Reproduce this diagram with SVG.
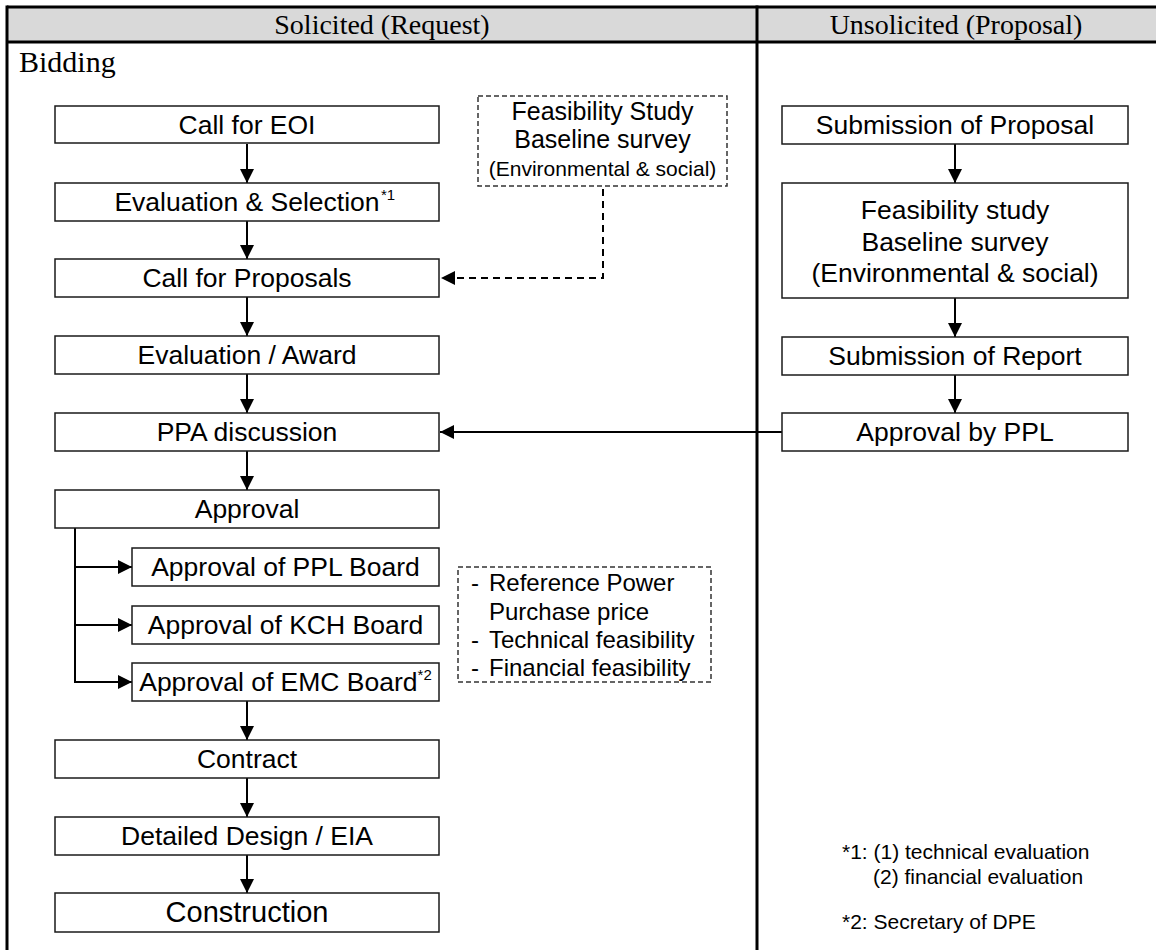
<svg xmlns="http://www.w3.org/2000/svg" width="1156" height="950" viewBox="0 0 1156 950">
  <style>
    .frame { stroke:#000; stroke-width:3; fill:none }
    .hdr { font-family:"Liberation Serif","Times New Roman",serif; font-size:28px; fill:#000 }
    .box { fill:#fff; stroke:#1a1a1a; stroke-width:1.5 }
    .note { fill:none; stroke:#333; stroke-width:1.5; stroke-dasharray:5 3 }
    .t { font-family:"Liberation Sans",Arial,sans-serif; font-size:26.5px; fill:#000; text-anchor:middle }
    .s { font-family:"Liberation Sans",Arial,sans-serif; font-size:24px; fill:#000 }
    .f { font-family:"Liberation Sans",Arial,sans-serif; font-size:21px; fill:#000 }
    .sup { font-size:15px }
    .c { stroke:#000; stroke-width:2; fill:none }
    .cd { stroke:#000; stroke-width:2; fill:none; stroke-dasharray:7 5 }
  </style>
  <defs>
    <marker id="arr" viewBox="0 0 10 10" refX="10" refY="5" markerWidth="14" markerHeight="14" markerUnits="userSpaceOnUse" orient="auto">
      <path d="M0,0 L10,5 L0,10 z" fill="#000"/>
    </marker>
  </defs>

  <!-- table frame -->
  <g id="table">
    <rect x="7" y="7" width="1160" height="35" fill="#d9d9d9"/>
    <line class="frame" x1="7" y1="7" x2="1160" y2="7"/>
    <line class="frame" x1="7" y1="42" x2="1160" y2="42"/>
    <line class="frame" x1="7" y1="5.5" x2="7" y2="960"/>
    <line class="frame" x1="757" y1="5.5" x2="757" y2="960"/>
    <text class="hdr" x="382" y="34" text-anchor="middle">Solicited (Request)</text>
    <text class="hdr" x="956" y="34" text-anchor="middle">Unsolicited (Proposal)</text>
    <text class="hdr" x="19" y="72" style="font-size:30px">Bidding</text>
  </g>

  <!-- connectors -->
  <g id="connectors">
    <line class="c" x1="247" y1="144" x2="247" y2="183" marker-end="url(#arr)"/>
    <line class="c" x1="247" y1="221" x2="247" y2="259" marker-end="url(#arr)"/>
    <line class="c" x1="247" y1="297" x2="247" y2="336" marker-end="url(#arr)"/>
    <line class="c" x1="247" y1="374" x2="247" y2="413" marker-end="url(#arr)"/>
    <line class="c" x1="247" y1="451" x2="247" y2="490" marker-end="url(#arr)"/>
    <polyline class="c" points="75,528 75,682"/>
    <line class="c" x1="74" y1="567" x2="132" y2="567" marker-end="url(#arr)"/>
    <line class="c" x1="74" y1="625" x2="132" y2="625" marker-end="url(#arr)"/>
    <line class="c" x1="74" y1="682" x2="132" y2="682" marker-end="url(#arr)"/>
    <line class="c" x1="247" y1="701" x2="247" y2="740" marker-end="url(#arr)"/>
    <line class="c" x1="247" y1="778" x2="247" y2="817" marker-end="url(#arr)"/>
    <line class="c" x1="247" y1="855" x2="247" y2="893" marker-end="url(#arr)"/>
    <polyline class="cd" points="603,189 603,278 441,278" marker-end="url(#arr)"/>
    <line class="c" x1="955" y1="144" x2="955" y2="183" marker-end="url(#arr)"/>
    <line class="c" x1="955" y1="298" x2="955" y2="337" marker-end="url(#arr)"/>
    <line class="c" x1="955" y1="375" x2="955" y2="413" marker-end="url(#arr)"/>
    <line class="c" x1="782" y1="432" x2="440" y2="432" marker-end="url(#arr)"/>
  </g>

  <!-- solicited column -->
  <g id="call-eoi">
    <rect class="box" x="55" y="106" width="384" height="37"/>
    <text class="t" x="247" y="134">Call for EOI</text>
  </g>
  <g id="eval-selection">
    <rect class="box" x="55" y="183" width="384" height="38"/>
    <text class="t" x="247" y="211">Evaluation &amp; Selection</text>
    <text class="t sup" x="381" y="200" style="text-anchor:start">*1</text>
  </g>
  <g id="call-proposals">
    <rect class="box" x="55" y="259" width="384" height="38"/>
    <text class="t" x="247" y="287">Call for Proposals</text>
  </g>
  <g id="eval-award">
    <rect class="box" x="55" y="336" width="384" height="38"/>
    <text class="t" x="247" y="364">Evaluation / Award</text>
  </g>
  <g id="ppa-discussion">
    <rect class="box" x="55" y="413" width="384" height="38"/>
    <text class="t" x="247" y="441">PPA discussion</text>
  </g>
  <g id="approval">
    <rect class="box" x="55" y="490" width="384" height="38"/>
    <text class="t" x="247" y="518">Approval</text>
  </g>
  <g id="approval-ppl">
    <rect class="box" x="132" y="548" width="307" height="38"/>
    <text class="t" x="285.5" y="576">Approval of PPL Board</text>
  </g>
  <g id="approval-kch">
    <rect class="box" x="132" y="606" width="307" height="38"/>
    <text class="t" x="285.5" y="634">Approval of KCH Board</text>
  </g>
  <g id="approval-emc">
    <rect class="box" x="132" y="663" width="307" height="38"/>
    <text class="t" x="285.5" y="691">Approval of EMC Board<tspan class="sup" dy="-11">*2</tspan></text>
  </g>
  <g id="contract">
    <rect class="box" x="55" y="740" width="384" height="38"/>
    <text class="t" x="247" y="768">Contract</text>
  </g>
  <g id="detailed-design">
    <rect class="box" x="55" y="817" width="384" height="38"/>
    <text class="t" x="247" y="845">Detailed Design / EIA</text>
  </g>
  <g id="construction">
    <rect class="box" x="55" y="893" width="384" height="39"/>
    <text class="t" x="247" y="922" style="font-size:29px">Construction</text>
  </g>

  <!-- side notes -->
  <g id="feasibility-note">
    <rect class="note" x="478" y="96" width="249" height="90"/>
    <text class="t" x="602.5" y="120" style="font-size:25px">Feasibility Study</text>
    <text class="t" x="602.5" y="148" style="font-size:25px">Baseline survey</text>
    <text class="t" x="602.5" y="175.5" style="font-size:21px">(Environmental &amp; social)</text>
  </g>
  <g id="criteria-note">
    <rect class="note" x="458" y="567" width="253" height="115"/>
    <text class="s" x="471" y="591">-</text>
    <text class="s" x="489" y="591">Reference Power</text>
    <text class="s" x="489" y="620">Purchase price</text>
    <text class="s" x="471" y="648">-</text>
    <text class="s" x="489" y="648">Technical feasibility</text>
    <text class="s" x="471" y="676">-</text>
    <text class="s" x="489" y="676">Financial feasibility</text>
  </g>

  <!-- unsolicited column -->
  <g id="submission-proposal">
    <rect class="box" x="782" y="106" width="346" height="38"/>
    <text class="t" x="955" y="134">Submission of Proposal</text>
  </g>
  <g id="feasibility-study">
    <rect class="box" x="782" y="183" width="346" height="115"/>
    <text class="t" x="955" y="219">Feasibility study</text>
    <text class="t" x="955" y="251">Baseline survey</text>
    <text class="t" x="955" y="282">(Environmental &amp; social)</text>
  </g>
  <g id="submission-report">
    <rect class="box" x="782" y="337" width="346" height="38"/>
    <text class="t" x="955" y="365">Submission of Report</text>
  </g>
  <g id="approval-by-ppl">
    <rect class="box" x="782" y="413" width="346" height="38"/>
    <text class="t" x="955" y="441">Approval by PPL</text>
  </g>

  <!-- footnotes -->
  <g id="footnotes">
    <text class="f" x="842" y="859">*1: (1) technical evaluation</text>
    <text class="f" x="873" y="884">(2) financial evaluation</text>
    <text class="f" x="842" y="929">*2: Secretary of DPE</text>
  </g>
</svg>
